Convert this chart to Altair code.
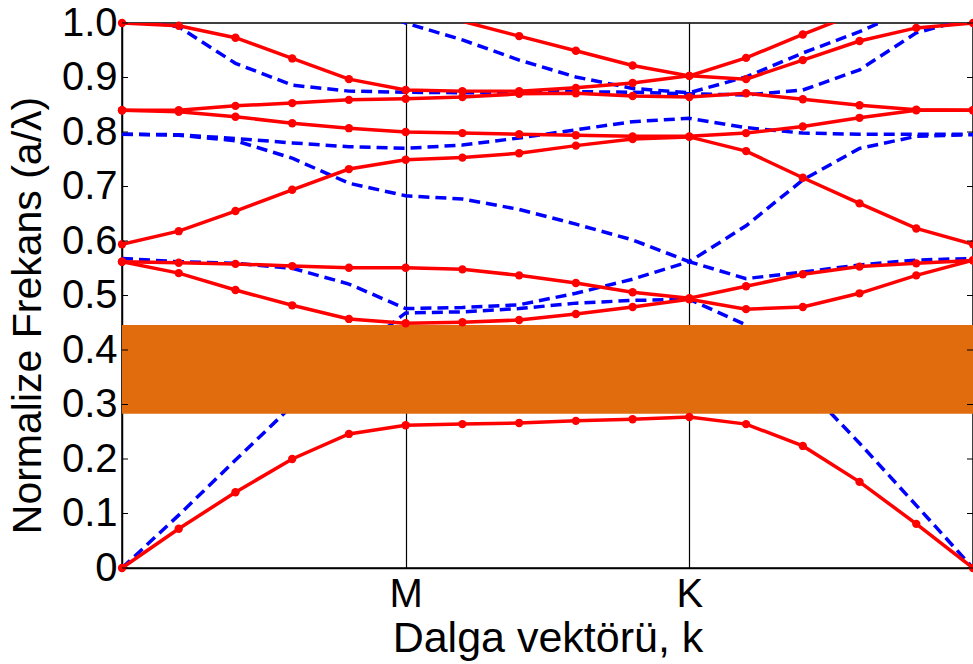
import altair as alt
import pandas as pd

# k-point index along Γ-M-K-Γ (5 steps per segment)
k_index = list(range(16))
sym_pos = [5, 10]
sym_labels = ["M", "K"]

# TE-like bands (red, solid, with dots)
red_bands = [
    [0.0, 0.072, 0.139, 0.200, 0.246, 0.262, 0.264, 0.266, 0.270, 0.273, 0.277, 0.264, 0.224, 0.158, 0.081, 0.0],
    [0.562, 0.541, 0.510, 0.482, 0.457, 0.449, 0.451, 0.455, 0.466, 0.479, 0.493, 0.475, 0.479, 0.504, 0.537, 0.565],
    [0.562, 0.560, 0.558, 0.554, 0.551, 0.551, 0.548, 0.537, 0.523, 0.506, 0.495, 0.517, 0.539, 0.553, 0.559, 0.564],
    [0.594, 0.618, 0.655, 0.694, 0.732, 0.749, 0.753, 0.761, 0.775, 0.787, 0.791, 0.765, 0.716, 0.669, 0.623, 0.594],
    [0.840, 0.837, 0.828, 0.816, 0.807, 0.800, 0.798, 0.796, 0.794, 0.792, 0.792, 0.798, 0.810, 0.826, 0.840, 0.840],
    [0.840, 0.840, 0.848, 0.853, 0.859, 0.861, 0.864, 0.870, 0.871, 0.866, 0.864, 0.871, 0.860, 0.849, 0.841, 0.840],
    [1.000, 0.995, 0.973, 0.935, 0.897, 0.877, 0.875, 0.875, 0.881, 0.890, 0.903, 0.897, 0.932, 0.967, 0.991, 1.000],
    [None, None, None, None, None, 1.025, 1.003, 0.976, 0.949, 0.922, 0.903, 0.936, 0.979, 1.020, None, None],
]

# TM-like bands (blue, dashed)
blue_bands = [
    [0.0, 0.097, 0.198, 0.298, 0.388, 0.468, 0.470, 0.476, 0.486, 0.491, 0.493, 0.446, 0.338, 0.229, 0.115, 0.0],
    [0.568, 0.562, 0.559, 0.550, 0.521, 0.476, 0.478, 0.483, 0.504, 0.530, 0.562, 0.531, 0.543, 0.556, 0.565, 0.568],
    [0.796, 0.794, 0.784, 0.752, 0.706, 0.683, 0.677, 0.658, 0.631, 0.602, 0.562, 0.628, 0.712, 0.770, 0.792, 0.795],
    [0.796, 0.795, 0.788, 0.780, 0.773, 0.770, 0.776, 0.789, 0.804, 0.819, 0.825, 0.808, 0.798, 0.796, 0.796, 0.796],
    [1.010, 0.993, 0.926, 0.886, 0.875, 0.873, 0.872, 0.873, 0.874, 0.873, 0.870, 0.868, 0.877, 0.914, 0.982, 1.010],
    [None, None, None, None, 1.040, 1.000, 0.969, 0.932, 0.901, 0.880, 0.872, 0.901, 0.945, 0.984, 1.030, None],
]

# photonic band gap
gap_low = [0.283]
gap_high = [0.446]

y_ticks = [0.0, 0.1, 0.2, 0.3, 0.4, 0.5, 0.6, 0.7, 0.8, 0.9, 1.0]

W, H = 851, 545

red_rows = []
for b, vals in enumerate(red_bands):
    for k, v in zip(k_index, vals):
        if v is not None:
            red_rows.append({"band": b, "k": k, "f": v})
red_df = pd.DataFrame(red_rows)

blue_rows = []
for b, vals in enumerate(blue_bands):
    for k, v in zip(k_index, vals):
        if v is not None:
            blue_rows.append({"band": b, "k": k, "f": v})
blue_df = pd.DataFrame(blue_rows)

gap_df = pd.DataFrame({"k0": [k_index[0]], "k1": [k_index[-1]], "lo": gap_low, "hi": gap_high})
tick_df = pd.DataFrame({"f": y_ticks})

FONT = "Liberation Sans"

x_scale = alt.Scale(domain=[0, 15], nice=False, zero=False)
y_scale = alt.Scale(domain=[0, 1], nice=False)

x_axis = alt.Axis(
    values=sym_pos,
    labelExpr="datum.value == 5 ? 'M' : (datum.value == 10 ? 'K' : '')",
    grid=True, gridColor="black", gridWidth=1.2, gridOpacity=1,
    ticks=False, labelPadding=6,
    title="Dalga vektörü, k", titlePadding=3, titleFontSize=43,
)
y_axis = alt.Axis(
    values=y_ticks,
    labelExpr="datum.value == 0 ? '0' : format(datum.value, '.1f')",
    grid=False, ticks=False, labelPadding=5,
    title="Normalize Frekans (a/λ)", titlePadding=12, titleFontSize=41, titleY=292,
)

blue = alt.Chart(blue_df).mark_line(
    color="#0000FF", strokeWidth=3.5, strokeDash=[11, 6], clip=True
).encode(
    x=alt.X("k:Q", scale=x_scale, axis=x_axis),
    y=alt.Y("f:Q", scale=y_scale, axis=y_axis),
    detail="band:N",
)

gap = alt.Chart(gap_df).mark_rect(color="#E06C0E", opacity=1).encode(
    x="k0:Q", x2="k1:Q", y="lo:Q", y2="hi:Q"
)

red = alt.Chart(red_df).mark_line(color="#FF0000", strokeWidth=3.5, clip=True).encode(
    x="k:Q", y="f:Q", detail="band:N"
)

dots = alt.Chart(red_df).transform_filter("datum.f <= 1.0001").mark_circle(
    color="#FF0000", size=70, opacity=1
).encode(x="k:Q", y="f:Q")

ticks_left = alt.Chart(tick_df).mark_rule(color="black", strokeWidth=1).encode(
    y="f:Q", x=alt.value(0), x2=alt.value(6)
)
ticks_right = alt.Chart(tick_df).mark_rule(color="black", strokeWidth=1).encode(
    y="f:Q", x=alt.value(W - 6), x2=alt.value(W)
)

chart = alt.layer(blue, gap, red, dots, ticks_left, ticks_right).properties(
    width=W, height=H,
    autosize=alt.AutoSizeParams(type="none"),
    padding={"left": 122, "top": 23, "right": 0, "bottom": 96},
).configure_view(
    stroke="black", strokeWidth=1.5
).configure_axis(
    labelFont=FONT, titleFont=FONT, labelFontSize=40, titleFontSize=40,
    labelColor="black", titleColor="black", titleFontWeight="normal",
    domainColor="black", domainWidth=1.5,
)

chart.save("out.html", embed_options={"renderer": "svg", "actions": False})
